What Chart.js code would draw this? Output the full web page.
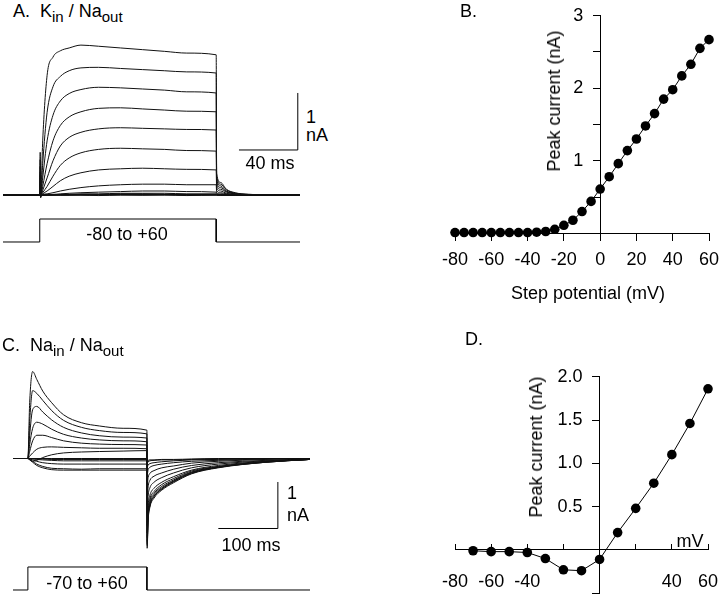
<!DOCTYPE html>
<html>
<head>
<meta charset="utf-8">
<script src="https://cdn.jsdelivr.net/npm/chart.js"></script>
<title>K and Na currents</title>
<style>
  * { font-family: "Liberation Sans", Arial, Helvetica, sans-serif; box-sizing: border-box; }
  body { margin: 0; width: 720px; height: 598px; background: #fff; position: relative; overflow: hidden; }
  canvas { position: absolute; }
  .lbl { position: absolute; font-size: 18px; line-height: 18px; color: #000; white-space: nowrap; }
  .c { transform: translate(-50%, -50%); }
  .rot { transform: translate(-50%, -50%) rotate(-90deg); }
  sub { font-size: 15px; vertical-align: -5px; line-height: 0; }
</style>
</head>
<body>
  <canvas id="cA" width="297" height="220" style="left:3px; top:30px"></canvas>
  <canvas id="cC" width="297" height="243" style="left:13px; top:355px"></canvas>
  <canvas id="cB" width="360" height="300" style="left:360px; top:0px"></canvas>
  <canvas id="cD" width="360" height="298" style="left:360px; top:300px"></canvas>

  <div class="lbl" style="left:13px; top:2px">A.&nbsp; K<sub>in</sub> / Na<sub>out</sub></div>
  <div class="lbl" style="left:2px; top:336px">C.&nbsp; Na<sub>in</sub> / Na<sub>out</sub></div>
  <div class="lbl" style="left:460px; top:2px">B.</div>
  <div class="lbl" style="left:465px; top:330px">D.</div>

  <div class="lbl c" style="left:311px; top:117px">1</div>
  <div class="lbl c" style="left:317px; top:135px">nA</div>
  <div class="lbl c" style="left:270px; top:163px">40 ms</div>
  <div class="lbl c" style="left:127px; top:234px">-80 to +60</div>

  <div class="lbl c" style="left:292px; top:493px">1</div>
  <div class="lbl c" style="left:298px; top:515px">nA</div>
  <div class="lbl c" style="left:251px; top:545px">100 ms</div>
  <div class="lbl c" style="left:87px; top:583px">-70 to +60</div>

  <div class="lbl c" style="left:588px; top:293px">Step potential (mV)</div>
  <div class="lbl rot" style="left:554px; top:101px">Peak current (nA)</div>
  <div class="lbl rot" style="left:536px; top:447px">Peak current (nA)</div>
  <div class="lbl c" style="left:690px; top:541px">mV</div>

<script>
  Chart.defaults.font.family = '"Liberation Sans", Arial, Helvetica, sans-serif';
  Chart.defaults.font.size = 18;
  Chart.defaults.color = '#000';

  // ---- A: K_in / Na_out current traces (ms, nA), steps -80 to +60 mV
  const tA = [-25, 0, 0.3, 0.6, 2, 5, 9, 14, 20, 28, 40, 55, 70, 85, 100, 120, 120.3, 123, 127, 133, 142, 177];
  const a60  = [0, 0, 0.75, -0.05, 0.95, 2.10, 2.42, 2.53, 2.58, 2.63, 2.61, 2.58, 2.55, 2.52, 2.49, 2.46, 0.38, 0.22, 0.10, 0.04, 0.01, 0];
  const a50  = [0, 0, 0.62, -0.04, 0.55, 1.45, 1.90, 2.08, 2.18, 2.23, 2.24, 2.22, 2.20, 2.18, 2.16, 2.14, 0.33, 0.19, 0.09, 0.03, 0.01, 0];
  const a40  = [0, 0, 0.50, -0.03, 0.30, 0.95, 1.40, 1.65, 1.78, 1.85, 1.89, 1.88, 1.86, 1.84, 1.81, 1.79, 0.28, 0.16, 0.07, 0.03, 0.01, 0];
  const a30  = [0, 0, 0.40, -0.03, 0.15, 0.55, 0.95, 1.22, 1.37, 1.46, 1.52, 1.53, 1.51, 1.49, 1.47, 1.46, 0.23, 0.13, 0.06, 0.02, 0.01, 0];
  const a20  = [0, 0, 0.35, -0.02, 0.08, 0.30, 0.60, 0.86, 1.01, 1.10, 1.16, 1.18, 1.17, 1.16, 1.15, 1.14, 0.18, 0.10, 0.05, 0.02, 0, 0];
  const a10  = [0, 0, 0.30, -0.02, 0.04, 0.15, 0.33, 0.52, 0.65, 0.74, 0.80, 0.82, 0.81, 0.80, 0.78, 0.77, 0.13, 0.07, 0.03, 0.01, 0, 0];
  const a0   = [0, 0, 0.25, -0.02, 0.02, 0.07, 0.15, 0.25, 0.33, 0.39, 0.44, 0.46, 0.47, 0.46, 0.45, 0.44, 0.08, 0.04, 0.02, 0.01, 0, 0];
  const aM10 = [0, 0, 0.20, -0.01, 0.01, 0.02, 0.04, 0.07, 0.10, 0.13, 0.16, 0.18, 0.19, 0.19, 0.18, 0.18, 0.04, 0.02, 0.01, 0, 0, 0];
  const aM20 = [0, 0, 0.15, -0.01, 0, 0.01, 0.01, 0.02, 0.03, 0.04, 0.05, 0.06, 0.07, 0.07, 0.06, 0.05, 0.02, 0.01, 0, 0, 0, 0];
  const aM30 = [0, 0, 0.10, 0, 0, 0, 0.01, 0.01, 0.01, 0.02, 0.02, 0.03, 0.03, 0.03, 0.02, 0.02, 0.01, 0, 0, 0, 0, 0];
  const aM40 = [0, 0, 0.06, 0, 0, 0, 0, 0.01, 0.01, 0.01, 0.01, 0.02, 0.02, 0.01, 0.01, 0.01, 0, 0, 0, 0, 0, 0];
  const aM50 = [0, 0, 0.04, 0, 0, 0, 0, 0, 0, 0.01, 0.01, 0.01, 0.01, 0.01, 0.01, 0.01, 0, 0, 0, 0, 0, 0];
  const aM60 = [0, 0, 0.03, 0, 0, 0, 0, 0, 0, 0, 0, 0.01, 0, 0.01, 0, 0, 0, 0, 0, 0, 0, 0];
  const aM70 = [0, 0, 0.02, 0, 0, 0, 0, 0, 0, 0, -0.01, 0, 0, 0, -0.01, 0, 0, 0, 0, 0, 0, 0];
  const aM80 = [0, 0, 0.01, 0, 0, 0, 0, 0, 0, 0, 0, 0, 0, 0, 0, 0, 0, 0, 0, 0, 0, 0];
  const protA_t = [-25, 0, 0, 120, 120, 177];
  const protA_on = [0, 0, 1, 1, 0, 0];
  const barA = { t: 135.5, i: 0.79, ms: 40, nA: 1 };

  // ---- C: Na_in / Na_out current traces (ms, nA), steps -70 to +60 mV
  const tC = [-25, 0, 3, 8, 15, 25, 40, 60, 90, 120, 160, 200, 200.4, 202, 205, 212, 225, 245, 275, 320, 400, 474];
  const c60  = [0, 0, 1.20, 1.87, 1.70, 1.45, 1.20, 0.94, 0.77, 0.70, 0.65, 0.61, -1.93, -1.35, -1.05, -0.85, -0.68, -0.52, -0.33, -0.20, -0.08, -0.02];
  const c50  = [0, 0, 0.80, 1.46, 1.40, 1.25, 1.03, 0.82, 0.67, 0.60, 0.56, 0.53, -1.87, -1.31, -1.02, -0.82, -0.66, -0.50, -0.32, -0.19, -0.08, -0.02];
  const c40  = [0, 0, 0.50, 1.05, 1.12, 1.00, 0.83, 0.67, 0.55, 0.49, 0.46, 0.44, -1.83, -1.28, -1.00, -0.81, -0.65, -0.49, -0.31, -0.19, -0.08, -0.02];
  const c30  = [0, 0, 0.30, 0.65, 0.78, 0.74, 0.63, 0.52, 0.44, 0.40, 0.38, 0.36, -1.78, -1.24, -0.97, -0.78, -0.63, -0.48, -0.30, -0.18, -0.07, -0.02];
  const c20  = [0, 0, 0.15, 0.38, 0.50, 0.50, 0.45, 0.38, 0.33, 0.31, 0.30, 0.29, -1.70, -1.19, -0.92, -0.75, -0.60, -0.46, -0.29, -0.18, -0.07, -0.02];
  const c10  = [0, 0, 0.05, 0.12, 0.20, 0.24, 0.25, 0.24, 0.23, 0.22, 0.22, 0.21, -1.60, -1.12, -0.87, -0.71, -0.56, -0.43, -0.27, -0.17, -0.07, -0.02];
  const c0   = [0, 0, -0.02, -0.06, -0.04, 0.02, 0.08, 0.12, 0.14, 0.15, 0.16, 0.17, -1.45, -1.01, -0.79, -0.64, -0.51, -0.39, -0.25, -0.15, -0.06, -0.02];
  const cM10 = [0, 0, -0.03, -0.08, -0.15, -0.20, -0.24, -0.25, -0.25, -0.25, -0.25, -0.25, -1.16, -0.81, -0.63, -0.51, -0.41, -0.31, -0.20, -0.12, -0.05, -0.01];
  const cM20 = [0, 0, -0.02, -0.06, -0.12, -0.17, -0.21, -0.22, -0.23, -0.22, -0.22, -0.22, -0.87, -0.61, -0.47, -0.38, -0.31, -0.23, -0.15, -0.09, -0.04, -0.01];
  const cM30 = [0, 0, -0.01, -0.03, -0.06, -0.09, -0.11, -0.12, -0.12, -0.12, -0.12, -0.12, -0.58, -0.41, -0.32, -0.26, -0.20, -0.16, -0.10, -0.06, -0.02, 0];
  const cM40 = [0, 0, 0, -0.01, -0.02, -0.03, -0.04, -0.05, -0.05, -0.05, -0.05, -0.05, -0.35, -0.24, -0.19, -0.15, -0.12, -0.09, -0.06, -0.04, -0.01, 0];
  const cM50 = [0, 0, 0, 0, -0.01, -0.01, -0.02, -0.02, -0.02, -0.02, -0.02, -0.02, -0.19, -0.14, -0.11, -0.09, -0.07, -0.05, -0.03, -0.02, -0.01, 0];
  const cM60 = [0, 0, 0, 0, 0, 0, -0.01, -0.01, -0.01, -0.01, -0.01, -0.01, -0.10, -0.07, -0.05, -0.04, -0.03, -0.03, -0.02, -0.01, 0, 0];
  const cM70 = [0, 0, 0, 0, 0, 0, 0, 0, 0, 0, 0, 0, -0.06, -0.04, -0.03, -0.03, -0.02, -0.02, -0.01, 0, 0, 0];
  const protC_t = [-25, 0, 0, 200, 200, 474];
  const protC_on = [0, 0, 1, 1, 0, 0];
  const barC = { t: 320, i: -1.505, ms: 100, nA: 1 };

  // ---- B: peak current vs step potential (K_in / Na_out)
  const ivB_mV = [-80, -75, -70, -65, -60, -55, -50, -45, -40, -35, -30, -25, -20, -15, -10, -5, 0, 5, 10, 15, 20, 25, 30, 35, 40, 45, 50, 55, 60];
  const ivB_nA = [0.01, 0.01, 0.01, 0.01, 0.01, 0.01, 0.01, 0.01, 0.01, 0.015, 0.025, 0.055, 0.11, 0.18, 0.30, 0.44, 0.61, 0.78, 0.96, 1.14, 1.30, 1.48, 1.65, 1.85, 1.98, 2.17, 2.33, 2.55, 2.67];

  // ---- D: peak current vs step potential (Na_in / Na_out)
  const ivD_mV = [-70, -60, -50, -40, -30, -20, -10, 0, 10, 20, 30, 40, 50, 60];
  const ivD_nA = [-0.01, -0.02, -0.02, -0.03, -0.10, -0.23, -0.24, -0.11, 0.20, 0.48, 0.77, 1.10, 1.46, 1.86];

  const tracesA = [a60, a50, a40, a30, a20, a10, a0, aM10, aM20, aM30, aM40, aM50, aM60, aM70, aM80];
  const tracesC = [c60, c50, c40, c30, c20, c10, c0, cM10, cM20, cM30, cM40, cM50, cM60, cM70];

  const xy = (xs, ys) => xs.map((x, i) => ({ x: x, y: ys[i] }));

  // Chart.js puts the labels of a y axis that crosses at x=0 right on the line,
  // so those are drawn here from the scale's own ticks, set back from the axis
  function crossLabels(format, gap) {
    return {
      id: 'crossLabels',
      afterDraw(chart) {
        const xs = chart.scales.x, ys = chart.scales.y, ctx = chart.ctx;
        const x0 = xs.getPixelForValue(0) - gap;
        ctx.save();
        ctx.font = '18px "Liberation Sans", Arial, Helvetica, sans-serif';
        ctx.fillStyle = '#000';
        ctx.textAlign = 'right';
        ctx.textBaseline = 'middle';
        ys.ticks.forEach(t => {
          const s = format(t.value);
          if (s) ctx.fillText(s, x0, ys.getPixelForValue(t.value));
        });
        ctx.restore();
      }
    };
  }

  // crossing axes take no room in the layout: the chart area comes from layout.padding only
  const noRoom = s => {
    s.width = s.isHorizontal() ? s.width : 0;
    s.height = s.isHorizontal() ? 0 : s.height;
    s.paddingLeft = 0; s.paddingRight = 0; s.paddingTop = 0; s.paddingBottom = 0;
  };

  function traceSet(t, ys) {
    return { data: xy(t, ys), yAxisID: 'y', borderColor: '#111', borderWidth: 1, pointRadius: 0,
             cubicInterpolationMode: 'monotone', clip: false };
  }
  function lineSet(pts, axis) {
    return { data: pts, yAxisID: axis, borderColor: '#000', borderWidth: 1, pointRadius: 0, tension: 0, clip: false };
  }
  function barSet(b) {
    return lineSet([{ x: b.t, y: b.i }, { x: b.t + b.ms, y: b.i }, { x: b.t + b.ms, y: b.i + b.nA }], 'y');
  }

  const base = {
    responsive: false, animation: false, events: [],
    layout: { padding: 0 },
    plugins: { legend: { display: false }, tooltip: { enabled: false } }
  };

  new Chart(document.getElementById('cA'), {
    type: 'line',
    data: { datasets: tracesA.map(v => traceSet(tA, v)).concat([lineSet(xy(protA_t, protA_on), 'yp'), barSet(barA)]) },
    options: Object.assign({}, base, {
      scales: {
        x: { type: 'linear', display: false, min: -25, max: 177 },
        y: { type: 'linear', display: false, min: -0.965, max: 2.895 },
        yp: { type: 'linear', display: false, min: -0.348, max: 9.22 }
      }
    })
  });

  new Chart(document.getElementById('cC'), {
    type: 'line',
    data: { datasets: tracesC.map(v => traceSet(tC, v)).concat([lineSet(xy(protC_t, protC_on), 'yp'), barSet(barC)]) },
    options: Object.assign({}, base, {
      scales: {
        x: { type: 'linear', display: false, min: -25, max: 474 },
        y: { type: 'linear', display: false, min: -3.0, max: 2.226 },
        yp: { type: 'linear', display: false, min: -0.348, max: 10.217 }
      }
    })
  });

  function ivSet(xs, ys) {
    return { data: xy(xs, ys), showLine: true, borderColor: '#000', borderWidth: 1,
             pointRadius: 4.8, pointBackgroundColor: '#000', pointBorderWidth: 0, clip: false };
  }
  const axisLine = { color: '#000', width: 1 };
  const noZeroTick = c => (c.tick && c.tick.value === 0) ? 'rgba(0,0,0,0)' : '#000';

  new Chart(document.getElementById('cB'), {
    type: 'scatter',
    data: { datasets: [ivSet(ivB_mV, ivB_nA)] },
    plugins: [crossLabels(v => (Number.isInteger(v) && v > 0) ? String(v) : '', 17)],
    options: Object.assign({}, base, {
      layout: { padding: { left: 95, right: 11, top: 15.7, bottom: 66.7 } },
      scales: {
        x: { type: 'linear', min: -80, max: 60, position: { y: 0 },
             afterFit: noRoom,
             border: axisLine,
             grid: { drawOnChartArea: false, color: '#000', tickLength: 7 },
             ticks: { stepSize: 20, padding: 9, maxRotation: 0, autoSkip: false } },
        y: { type: 'linear', min: 0, max: 3, position: { x: 0 },
             afterFit: noRoom,
             border: axisLine,
             grid: { drawOnChartArea: false, tickLength: 7, color: noZeroTick },
             ticks: { stepSize: 0.5, display: false } }
      }
    })
  });

  new Chart(document.getElementById('cD'), {
    type: 'scatter',
    data: { datasets: [ivSet(ivD_mV, ivD_nA)] },
    plugins: [crossLabels(v => v > 0 ? v.toFixed(1) : '', 17)],
    options: Object.assign({}, base, {
      layout: { padding: { left: 95, right: 12, top: 76.7, bottom: 1.8 } },
      scales: {
        x: { type: 'linear', min: -80, max: 60, position: { y: 0 },
             afterFit: noRoom,
             border: axisLine,
             grid: { drawOnChartArea: false, color: '#000', tickLength: -6 },
             ticks: { stepSize: 20, padding: 27, maxRotation: 0, autoSkip: false,
                      callback: v => ([-20, 0, 20].includes(v) ? '' : String(v)) } },
        y: { type: 'linear', min: -0.5, max: 2.0, position: { x: 0 },
             afterFit: noRoom,
             border: axisLine,
             grid: { drawOnChartArea: false, tickLength: 7, color: noZeroTick },
             ticks: { stepSize: 0.5, display: false } }
      }
    })
  });
</script>
</body>
</html>
